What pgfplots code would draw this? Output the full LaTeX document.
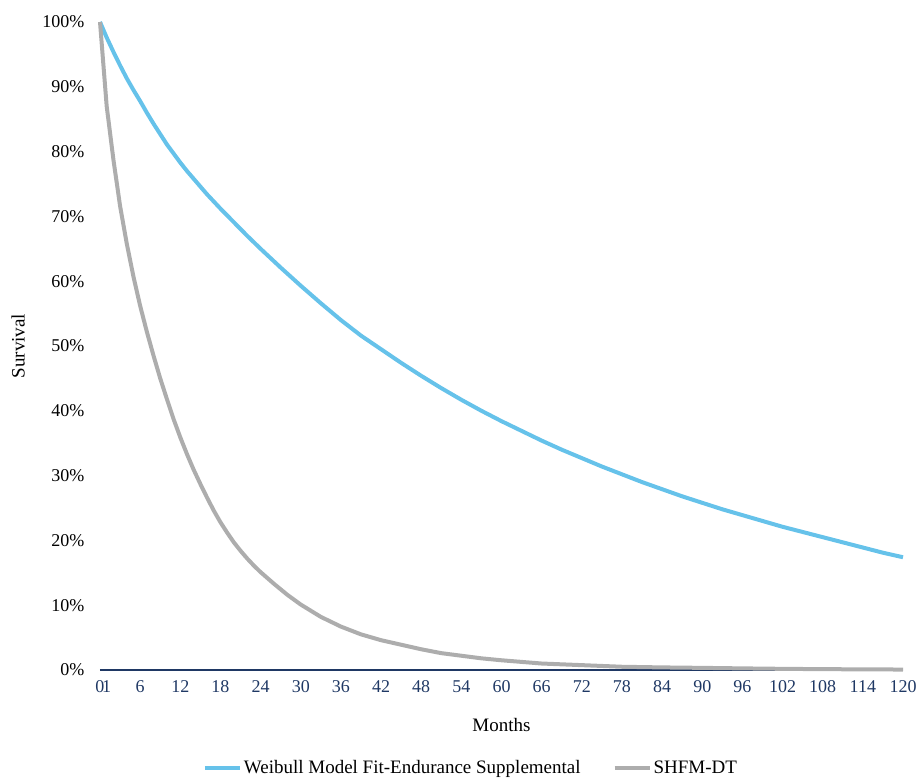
\documentclass[border=0pt]{standalone}
\usepackage{pgfplots}
\pgfplotsset{compat=1.18}
\usepackage{fontspec}
\setmainfont{Liberation Serif}

\definecolor{weibull}{HTML}{66C2EA}
\definecolor{shfm}{HTML}{ADADAD}
\definecolor{navy}{HTML}{1F3864}

\begin{document}
\begin{tikzpicture}
\begin{axis}[
    scale only axis,
    width=803bp, height=648bp,
    xmin=0, xmax=120, ymin=0, ymax=100,
    clip=false,
    axis x line=bottom, axis y line=left,
    x axis line style={draw=navy, line width=1.3bp, -},
    y axis line style={draw=none},
    major tick length=0pt,
    xtick={0,1,6,12,18,24,30,36,42,48,54,60,66,72,78,84,90,96,102,108,114,120},
    xticklabels={0,1,6,12,18,24,30,36,42,48,54,60,66,72,78,84,90,96,102,108,114,120},
    ytick={0,10,...,100},
    yticklabels={0\%,10\%,20\%,30\%,40\%,50\%,60\%,70\%,80\%,90\%,100\%},
    xticklabel style={font=\fontsize{18bp}{20bp}\selectfont, text=navy, yshift=-7bp},
    yticklabel style={font=\fontsize{18bp}{20bp}\selectfont, text=black, xshift=-12bp},
    xlabel={Months},
    ylabel={Survival},
    xlabel style={font=\fontsize{19bp}{22bp}\selectfont, at={(axis description cs:0.5,-0.085)}, anchor=center},
    ylabel style={font=\fontsize{19bp}{22bp}\selectfont, at={(axis description cs:-0.102,0.5)}, anchor=center},
    legend columns=2,
    legend style={at={(0.462,-0.151)}, anchor=center, draw=none,
        font=\fontsize{19bp}{22bp}\selectfont,
        /tikz/every even column/.append style={column sep=30bp}},
    legend image code/.code={\draw[#1] (0bp,0bp) -- (35bp,0bp);},
]
\coordinate (sw) at (rel axis cs:0,0);
\coordinate (ne) at (rel axis cs:1,1);

\addplot[weibull, line width=4bp, line join=round] coordinates {
(0,100) (1,97.6) (2,95.4) (3,93.3) (4,91.3) (5,89.5) (6,87.8) (7,86.0)
(8,84.3) (9,82.7) (10,81.1) (11,79.7) (12,78.3) (13,77.0) (14,75.8)
(15,74.6) (16,73.4) (17,72.3) (18,71.2) (20,69.1) (22,67.0) (24,65.0)
(27,62.1) (30,59.3) (33,56.6) (36,54.0) (39,51.6) (42,49.5) (45,47.4)
(48,45.4) (51,43.5) (54,41.7) (57,40.0) (60,38.4) (63,36.9) (66,35.4)
(69,34.0) (72,32.7) (75,31.4) (78,30.2) (81,29.0) (84,27.9) (87,26.8)
(90,25.8) (93,24.8) (96,23.9) (99,23.0) (102,22.1) (105,21.3) (108,20.5)
(111,19.7) (114,18.9) (117,18.1) (120,17.4)
};
\addlegendentry{Weibull Model Fit-Endurance Supplemental}

\addplot[shfm, line width=4bp, line join=round] coordinates {
(0,100) (1,87.0) (2,78.8) (3,71.6) (4,65.8) (5,60.7) (6,56.2) (7,52.2)
(8,48.5) (9,45.0) (10,41.8) (11,38.7) (12,35.9) (13,33.3) (14,30.9)
(15,28.7) (16,26.6) (17,24.6) (18,22.8) (19,21.2) (20,19.7) (21,18.4)
(22,17.2) (23,16.1) (24,15.1) (26,13.3) (28,11.6) (30,10.1) (33,8.2)
(36,6.7) (39,5.5) (42,4.6) (45,3.9) (48,3.2) (51,2.6) (54,2.2) (57,1.8)
(60,1.5) (66,1.0) (72,0.75) (78,0.5) (84,0.4) (90,0.33) (96,0.25)
(102,0.18) (108,0.13) (114,0.1) (120,0.07)
};
\addlegendentry{SHFM-DT}
\end{axis}
\pgfresetboundingbox
\path ([shift={(-100bp,-108bp)}]sw) rectangle ([shift={(16bp,22bp)}]ne);
\end{tikzpicture}
\end{document}
